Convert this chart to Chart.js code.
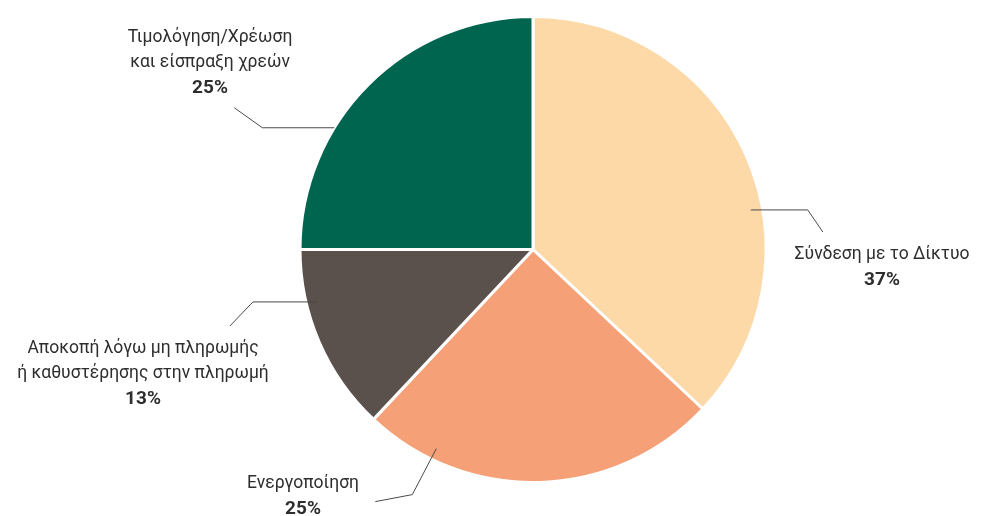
<!DOCTYPE html>
<html>
<head>
<meta charset="utf-8">
<script src="https://cdn.jsdelivr.net/npm/chart.js@4"></script>
<style>
  html, body { margin: 0; padding: 0; background: #fff; }
  #wrap { width: 981px; height: 516px; }
</style>
</head>
<body>
<div id="wrap"><canvas id="myChart" width="981" height="516"></canvas></div>
<script>
// categories and values, clockwise from 12 o'clock
const categories = [
  ["Σύνδεση με το Δίκτυο"],
  ["Ενεργοποίηση"],
  ["Αποκοπή λόγω μη πληρωμής", "ή καθυστέρησης στην πληρωμή"],
  ["Τιμολόγηση/Χρέωση", "και είσπραξη χρεών"]
];
const values = [37, 25, 13, 25];
const colors = ["#FDD9A8", "#F5A077", "#5A504C", "#00654F"];

// leader lines: angle on the slice (deg from top), radius fraction, elbow + end offsets
// text: centre x and first line y
const labelLayout = [
  { ang: 79.7, rf: 0.95, elbow: [57, 0], end: [72, 22], tx: 882, ty: 255 },
  { ang: 205.9, rf: 0.95, elbow: [-24, 46], end: [-61, 53], tx: 303, ty: 484 },
  { ang: 256.3, rf: 0.95, elbow: [-65, 0], end: [-88, 24], tx: 143, ty: 349 },
  { ang: 301.5, rf: 1.0, elbow: [-72, 0], end: [-100, -20], tx: 210, ty: 38 }
];

const FONT = "Roboto, 'DejaVu Sans', sans-serif";

const leaderLabels = {
  id: "leaderLabels",
  afterDraw(chart) {
    const ctx = chart.ctx;
    const meta = chart.getDatasetMeta(0);
    ctx.save();
    meta.data.forEach((arc, i) => {
      const L = labelLayout[i];
      const a = (L.ang - 90) * Math.PI / 180;
      const r = arc.outerRadius * L.rf;
      const x0 = arc.x + Math.cos(a) * r;
      const y0 = arc.y + Math.sin(a) * r;
      ctx.beginPath();
      ctx.strokeStyle = "#4a4a4a";
      ctx.lineWidth = 1;
      ctx.moveTo(x0, y0);
      ctx.lineTo(x0 + L.elbow[0], y0 + L.elbow[1]);
      ctx.lineTo(x0 + L.end[0], y0 + L.end[1]);
      ctx.stroke();

      ctx.fillStyle = "#2e2e2e";
      ctx.textAlign = "center";
      ctx.textBaseline = "middle";
      const lines = categories[i];
      ctx.font = "17.5px " + FONT;
      lines.forEach((t, k) => ctx.fillText(t, L.tx, L.ty + k * 25));
      ctx.font = "bold 19px " + FONT;
      ctx.fillText(values[i] + "%", L.tx, L.ty + lines.length * 25);
    });
    ctx.restore();
  }
};

const ctx = document.getElementById("myChart").getContext("2d");
const myChart = new Chart(ctx, {
  type: "pie",
  data: {
    labels: categories.map(c => c.join(" ")),
    datasets: [{
      data: values,
      backgroundColor: colors,
      borderColor: "#ffffff",
      borderWidth: 3,
      hoverOffset: 0
    }]
  },
  options: {
    responsive: false,
    animation: false,
    events: [],
    layout: { padding: { top: 15, bottom: 32, left: 200, right: 115 } },
    plugins: {
      legend: { display: false },
      tooltip: { enabled: false }
    }
  },
  plugins: [leaderLabels]
});
</script>
</body>
</html>
